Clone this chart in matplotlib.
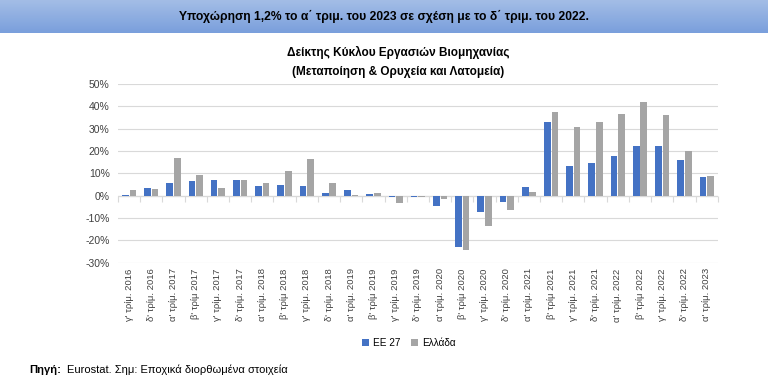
import matplotlib.pyplot as plt
import numpy as np

plt.rcParams['font.family'] = ['Liberation Sans', 'DejaVu Sans']

# Τρίμηνα (κατηγορίες)
quarters = ["γ' τρίμ. 2016", "δ' τρίμ. 2016",
            "α' τρίμ. 2017", "β' τρίμ 2017", "γ' τρίμ. 2017", "δ' τρίμ. 2017",
            "α' τρίμ. 2018", "β' τρίμ 2018", "γ' τρίμ. 2018", "δ' τρίμ. 2018",
            "α' τρίμ. 2019", "β' τρίμ 2019", "γ' τρίμ. 2019", "δ' τρίμ. 2019",
            "α' τρίμ. 2020", "β' τρίμ 2020", "γ' τρίμ. 2020", "δ' τρίμ. 2020",
            "α' τρίμ. 2021", "β' τρίμ 2021", "γ' τρίμ. 2021", "δ' τρίμ. 2021",
            "α' τρίμ. 2022", "β' τρίμ 2022", "γ' τρίμ. 2022", "δ' τρίμ. 2022",
            "α' τρίμ. 2023"]

# ετήσια μεταβολή (%)
ee27 = [0.3, 3.3, 5.7, 6.7, 6.9, 7.0, 4.3, 4.9, 4.2, 1.3, 2.7, 0.7,
        -0.6, -0.7, -4.5, -23.1, -7.5, -2.7, 3.9, 32.8, 13.4, 14.6,
        17.9, 22.2, 22.2, 16.1, 8.4]
ellada = [2.7, 2.8, 16.9, 9.3, 3.4, 7.2, 5.8, 10.9, 16.6, 5.8, 0.3, 1.3,
          -3.3, -0.7, -1.3, -24.2, -13.7, -6.4, 1.5, 37.5, 30.9, 33.0,
          36.6, 41.8, 36.3, 20.1, 9.0]

fig = plt.figure(figsize=(7.68, 3.81), dpi=100)

# μπλε μπάρα τίτλου με διαβάθμιση
banner = fig.add_axes([0, 1 - 33 / 381, 1, 33 / 381])
grad = np.linspace(0, 1, 50).reshape(-1, 1)
banner.imshow(grad, aspect='auto', cmap=plt.matplotlib.colors.LinearSegmentedColormap.from_list(
    'b', ['#a3bde6', '#7a9fdc']), extent=[0, 1, 0, 1])
banner.set_axis_off()
banner.text(0.5, 0.5, "Υποχώρηση 1,2% το α΄ τριμ. του 2023 σε σχέση με το δ΄ τριμ. του 2022.",
            ha='center', va='center', fontsize=8.7, fontweight='bold')

ax = fig.add_axes([0.1536, 0.3105, 0.781, 0.469])
x = np.arange(len(quarters))
w = 0.3
ax.bar(x - w / 2 - 0.02, ee27, w, color='#4472C4', label='ΕΕ 27')
ax.bar(x + w / 2 + 0.02, ellada, w, color='#A5A5A5', label='Ελλάδα')

ax.set_xlim(-0.5, len(quarters) - 0.5)
ax.set_ylim(-30, 50)
ax.set_yticks(range(-30, 51, 10))
ax.set_yticklabels([f'{v}%' for v in range(-30, 51, 10)], fontsize=7.5, color='#404040')
ax.grid(axis='y', color='#d9d9d9', linewidth=0.8)
ax.set_axisbelow(True)
for s in ax.spines.values():
    s.set_visible(False)
ax.tick_params(axis='y', length=0, pad=6)
ax.set_xticks(x)
ax.set_xticklabels(quarters, rotation=90, fontsize=6.8, color='#404040')
ax.tick_params(axis='x', length=0, pad=4)

# άξονας στο μηδέν με υποδιαιρέσεις
ax.axhline(0, color='#d9d9d9', linewidth=0.9, zorder=0)
sec = ax.secondary_xaxis(0.375)
sec.set_xticks(np.arange(-0.5, len(quarters), 1))
sec.set_xticklabels([])
sec.tick_params(axis='x', length=4, color='#d9d9d9', direction='out')
sec.spines['bottom'].set_visible(False)

fig.text(0.518, 0.838, 'Δείκτης Κύκλου Εργασιών Βιομηχανίας\n(Μεταποίηση & Ορυχεία και Λατομεία)',
         ha='center', va='center', fontsize=8.5, fontweight='bold', linespacing=1.75)

ax.legend(loc='center', bbox_to_anchor=(0.485, -0.45), ncol=2, frameon=False,
          fontsize=7.2, handlelength=0.7, handleheight=0.7, columnspacing=1.0,
          handletextpad=0.4)

fig.text(0.038, 0.029, 'Πηγή:', fontsize=8, fontweight='bold', va='center')
fig.text(0.087, 0.029, 'Eurostat. Σημ: Εποχικά διορθωμένα στοιχεία', fontsize=8, va='center')

fig.savefig('out.png', dpi=100)
